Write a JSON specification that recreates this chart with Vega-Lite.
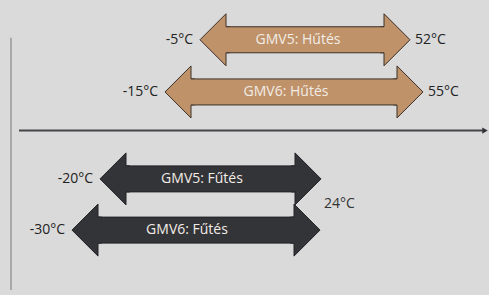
{
  "$schema": "https://vega.github.io/schema/vega-lite/v6.json",
  "width": 489,
  "height": 295,
  "autosize": {"type": "fit", "contains": "padding"},
  "padding": 0,
  "background": "#dadada",
  "config": {"view": {"stroke": null}},
  "datasets": {
    "arrows": [
      {"label": "GMV5: Hűtés", "lo": "-5°C", "hi": "52°C", "tipL": 200, "tipR": 410, "y": 36, "lx": 298, "type": "cool"},
      {"label": "GMV6: Hűtés", "lo": "-15°C", "hi": "55°C", "tipL": 165, "tipR": 423, "y": 90, "lx": 286, "type": "cool"},
      {"label": "GMV5: Fűtés", "lo": "-20°C", "hi": "", "tipL": 100, "tipR": 321, "y": 180, "lx": 202, "type": "heat"},
      {"label": "GMV6: Fűtés", "lo": "-30°C", "hi": "", "tipL": 72, "tipR": 320, "y": 233, "lx": 187, "type": "heat"}
    ],
    "notes": [{"text": "24°C", "x": 324, "y": 206}],
    "axes": [{"x": 19, "x2": 485, "y": 130, "vx": 11, "vy": 34, "vy2": 295}]
  },
  "encoding": {
    "x": {"type": "quantitative", "scale": {"domain": [0, 489], "nice": false, "zero": false}, "axis": null},
    "y": {"type": "quantitative", "scale": {"domain": [0, 295], "nice": false, "zero": false, "reverse": true}, "axis": null}
  },
  "layer": [
    {
      "data": {"name": "axes"},
      "mark": {"type": "rule", "color": "#a9a9a9", "strokeWidth": 2},
      "encoding": {"x": {"field": "vx"}, "y": {"field": "vy"}, "y2": {"field": "vy2"}}
    },
    {
      "data": {"name": "axes"},
      "mark": {"type": "rule", "color": "#454548", "strokeWidth": 2},
      "encoding": {"x": {"field": "x"}, "x2": {"field": "x2"}, "y": {"field": "y"}}
    },
    {
      "data": {"name": "axes"},
      "mark": {"type": "point", "shape": "triangle-right", "size": 40, "filled": true, "color": "#333338", "opacity": 1},
      "encoding": {"x": {"field": "x2"}, "y": {"field": "y"}}
    },
    {
      "data": {"name": "arrows"},
      "mark": {"type": "bar", "size": 26, "xOffset": 24, "x2Offset": -24, "strokeWidth": 1},
      "encoding": {
        "x": {"field": "tipL"}, "x2": {"field": "tipR"}, "y": {"field": "y"},
        "fill": {"field": "type", "type": "nominal", "scale": {"domain": ["cool", "heat"], "range": ["#bf926a", "#333438"]}, "legend": null},
        "stroke": {"field": "type", "type": "nominal", "scale": {"domain": ["cool", "heat"], "range": ["#3b3028", "#222226"]}, "legend": null}
      }
    },
    {
      "data": {"name": "arrows"},
      "mark": {"type": "point", "shape": "M1.15,-0.5L1,-0.5L1,-1L0,0L1,1L1,0.5L1.15,0.5", "size": 2704, "filled": true, "opacity": 1, "strokeWidth": 1},
      "encoding": {
        "x": {"field": "tipL"}, "y": {"field": "y"},
        "fill": {"field": "type", "type": "nominal", "legend": null},
        "stroke": {"field": "type", "type": "nominal", "legend": null}
      }
    },
    {
      "data": {"name": "arrows"},
      "mark": {"type": "point", "shape": "M-1.15,-0.5L-1,-0.5L-1,-1L0,0L-1,1L-1,0.5L-1.15,0.5", "size": 2704, "filled": true, "opacity": 1, "strokeWidth": 1},
      "encoding": {
        "x": {"field": "tipR"}, "y": {"field": "y"},
        "fill": {"field": "type", "type": "nominal", "legend": null},
        "stroke": {"field": "type", "type": "nominal", "legend": null}
      }
    },
    {
      "data": {"name": "arrows"},
      "mark": {"type": "text", "font": "Open Sans", "fontSize": 14, "align": "center", "baseline": "middle", "color": "#f2ece6"},
      "encoding": {"x": {"field": "lx"}, "y": {"field": "y"}, "text": {"field": "label"}}
    },
    {
      "data": {"name": "arrows"},
      "mark": {"type": "text", "font": "Open Sans", "fontSize": 14, "align": "right", "baseline": "middle", "dx": -7, "color": "#222222"},
      "encoding": {"x": {"field": "tipL"}, "y": {"field": "y"}, "text": {"field": "lo"}}
    },
    {
      "data": {"name": "arrows"},
      "mark": {"type": "text", "font": "Open Sans", "fontSize": 14, "align": "left", "baseline": "middle", "dx": 5, "color": "#222222"},
      "encoding": {"x": {"field": "tipR"}, "y": {"field": "y"}, "text": {"field": "hi"}}
    },
    {
      "data": {"name": "notes"},
      "mark": {"type": "text", "font": "Open Sans", "fontSize": 14, "align": "left", "baseline": "middle", "color": "#333333"},
      "encoding": {"x": {"field": "x"}, "y": {"field": "y"}, "text": {"field": "text"}}
    }
  ]
}
